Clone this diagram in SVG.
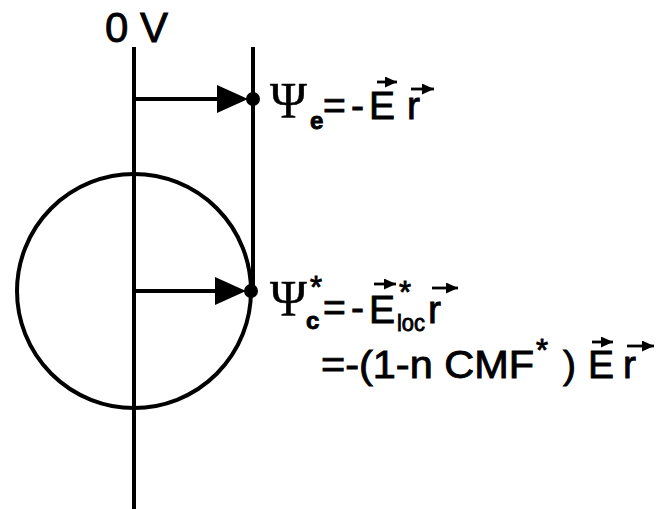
<svg xmlns="http://www.w3.org/2000/svg" width="664" height="509" viewBox="0 0 664 509">
<style>
.ln{stroke:#000;stroke-width:4;fill:none}
.sans{font-family:"Liberation Sans",Arial,sans-serif;fill:#000;stroke:#000;stroke-width:0.9}
.serif{font-family:"Liberation Serif","Times New Roman",serif;fill:#000;stroke:#000;stroke-width:0.4}
.vec{stroke:#000;stroke-width:2.8;fill:none}
</style>
<defs>
<marker id="va" markerWidth="12" markerHeight="11" refX="12" refY="5.5" orient="auto" markerUnits="userSpaceOnUse" viewBox="0 0 12 11"><path d="M0,0 L12,5.5 L0,11 Z" fill="#000"/></marker>
</defs>
<g id="axis0">
<line class="ln" x1="134" y1="47" x2="134" y2="509"/>
<text class="sans" x="105" y="42" font-size="42">0 V</text>
</g>
<g id="sphere">
<circle class="ln" cx="134" cy="291" r="117"/>
</g>
<g id="surfaceline">
<line class="ln" x1="253" y1="47" x2="253" y2="291"/>
</g>
<g id="connectors">
<line class="ln" x1="134" y1="99" x2="222" y2="99"/>
<polygon points="217,85 248,99 217,113" fill="#000"/>
<line class="ln" x1="134" y1="291" x2="220" y2="291"/>
<polygon points="215,277 246,291 215,305" fill="#000"/>
</g>
<g id="point-e">
<circle cx="253" cy="99" r="7" fill="#000"/>
<text class="serif" x="270" y="117" font-size="50">Ψ</text>
<text class="sans" x="310" y="129" font-size="24" font-weight="bold">e</text>
<text class="sans" x="323" y="119" font-size="39">=</text>
<text class="sans" x="351" y="119" font-size="39">-</text>
<text class="sans" x="369" y="119" font-size="39">E</text>
<text class="sans" x="407" y="119" font-size="39">r</text>
<line class="vec" x1="377" y1="82" x2="397" y2="82" marker-end="url(#va)"/>
<line class="vec" x1="411" y1="89" x2="434" y2="89" marker-end="url(#va)"/>
</g>
<g id="point-c">
<circle cx="251" cy="291" r="7" fill="#000"/>
<text class="serif" x="270" y="315" font-size="50">Ψ</text>
<text class="sans" x="310" y="298" font-size="31">*</text>
<text class="sans" x="306" y="329" font-size="24" font-weight="bold">c</text>
<text class="sans" x="323" y="321" font-size="39">=</text>
<text class="sans" x="351" y="321" font-size="39">-</text>
<text class="sans" x="369" y="323" font-size="39">E</text>
<text class="sans" x="399" y="303" font-size="31">*</text>
<text class="sans" x="397" y="331" font-size="24" textLength="28" lengthAdjust="spacingAndGlyphs">loc</text>
<text class="sans" x="428" y="323" font-size="39">r</text>
<line class="vec" x1="374" y1="284" x2="396" y2="284" marker-end="url(#va)"/>
<line class="vec" x1="432" y1="288" x2="458" y2="288" marker-end="url(#va)"/>
<text class="sans" x="321" y="378" font-size="39" textLength="213" lengthAdjust="spacingAndGlyphs">=-(1-n CMF</text>
<text class="sans" x="536" y="361" font-size="31">*</text>
<text class="sans" x="563" y="378" font-size="39">)</text>
<text class="sans" x="588" y="378" font-size="39">E</text>
<text class="sans" x="623" y="378" font-size="39">r</text>
<line class="vec" x1="592" y1="342" x2="613" y2="342" marker-end="url(#va)"/>
<line class="vec" x1="627" y1="346" x2="654" y2="346" marker-end="url(#va)"/>
</g>
</svg>
